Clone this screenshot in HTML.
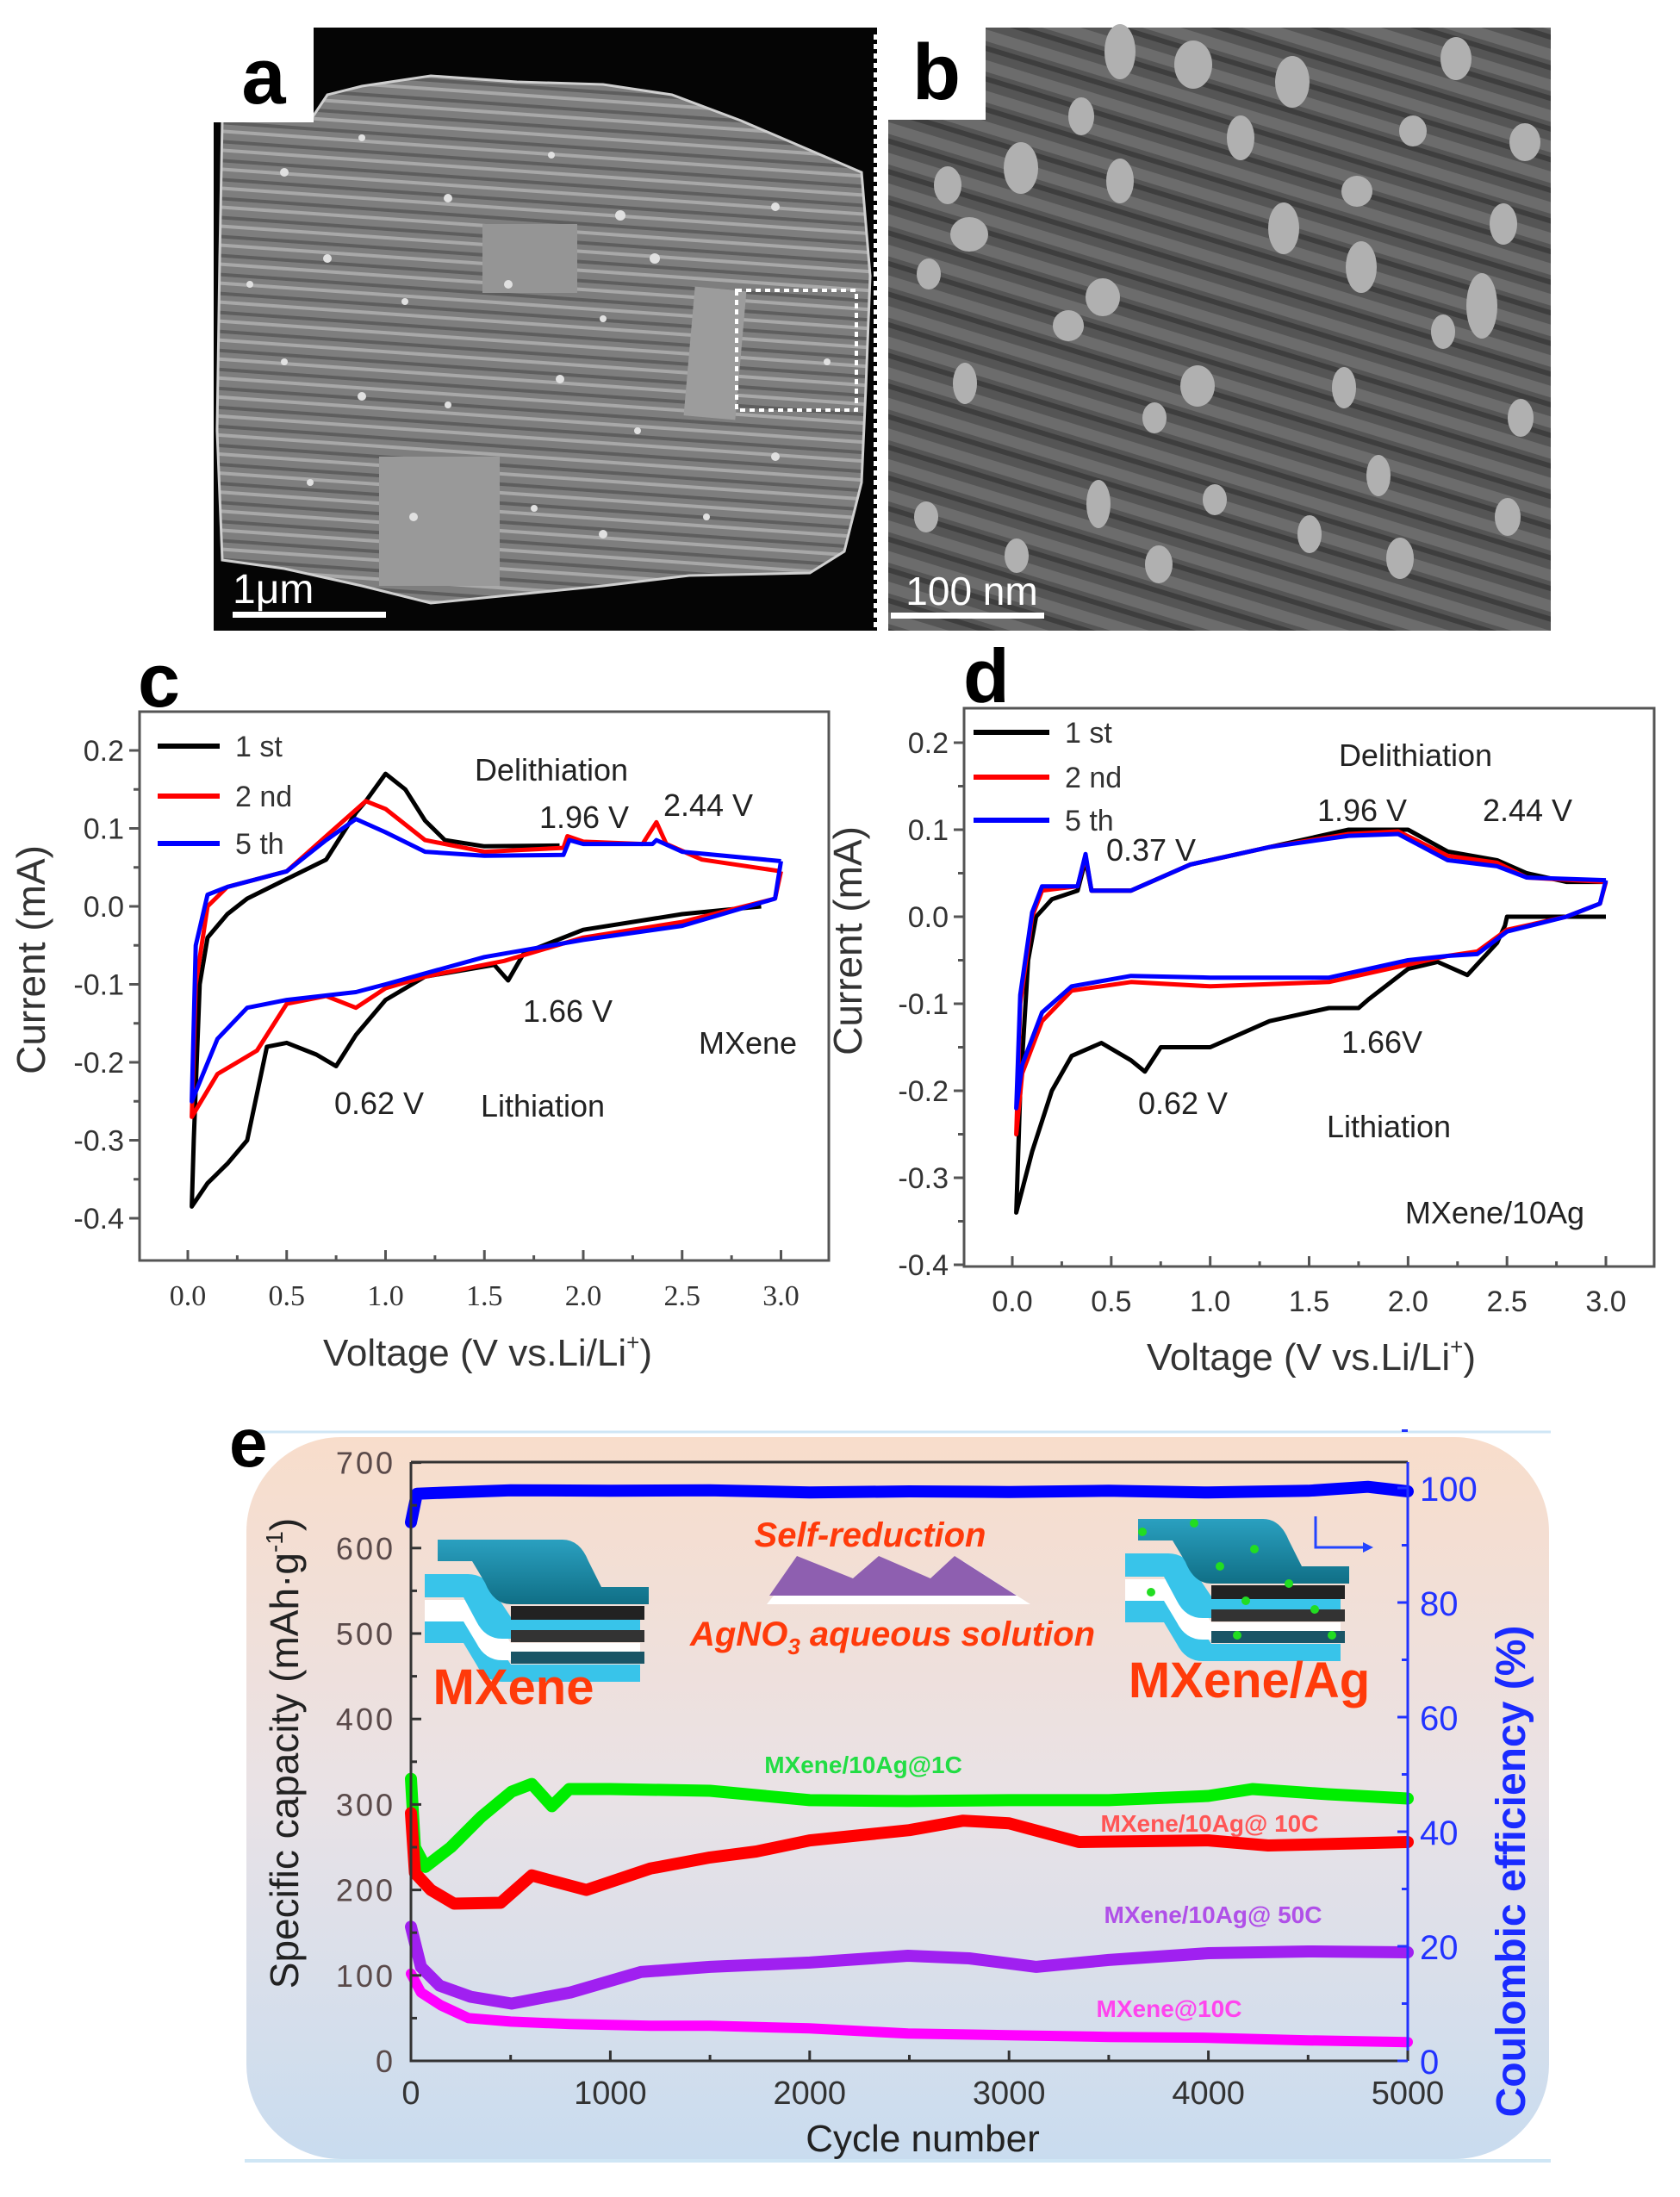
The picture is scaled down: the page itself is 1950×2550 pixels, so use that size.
<!DOCTYPE html>
<html><head><meta charset="utf-8"><style>
html,body{margin:0;padding:0;background:#fff;}
svg{display:block;font-family:"Liberation Sans",Arial,sans-serif;}
</style></head><body>
<svg id="fig" width="1950" height="2550" viewBox="0 0 1950 2550" xmlns="http://www.w3.org/2000/svg">
<defs>
 <pattern id="layersA" width="60" height="22" patternUnits="userSpaceOnUse" patternTransform="rotate(4)">
  <rect width="60" height="22" fill="#7e7e7e"/>
  <rect y="0" width="60" height="4" fill="#a8a8a8"/>
  <rect y="12" width="60" height="4" fill="#5e5e5e"/>
 </pattern>
 <pattern id="fibersB" width="80" height="34" patternUnits="userSpaceOnUse" patternTransform="rotate(17)">
  <rect width="80" height="34" fill="#555"/>
  <rect y="4" width="80" height="13" fill="#6c6c6c"/>
  <rect y="22" width="80" height="6" fill="#3e3e3e"/>
 </pattern>
 <linearGradient id="bgE" x1="0" y1="0" x2="0" y2="1">
  <stop offset="0" stop-color="#f8ddcb"/>
  <stop offset="0.5" stop-color="#e9e2e6"/>
  <stop offset="1" stop-color="#c9dcef"/>
 </linearGradient>
 <linearGradient id="tealTop" x1="0" y1="0" x2="0" y2="1">
  <stop offset="0" stop-color="#2aa0c0"/><stop offset="1" stop-color="#106f86"/>
 </linearGradient>
</defs>

<!-- Panel a -->
<g>
 <rect x="248" y="32" width="770" height="700" fill="#050505"/>
 <path d="M258,140 L360,140 L380,110 L420,100 L500,88 L600,95 L700,98 L780,110 L860,140 L930,170 L1000,200 L1010,320 L1005,450 L1000,560 L980,640 L940,665 L800,668 L700,680 L600,690 L500,700 L420,680 L330,660 L258,650 L252,500 L255,300 Z" fill="url(#layersA)"/>
 <path d="M258,140 L360,140 L380,110 L420,100 L500,88 L600,95 L700,98 L780,110 L860,140 L930,170 L1000,200 L1010,320 L1005,450 L1000,560 L980,640 L940,665 L800,668 L700,680 L600,690 L500,700 L420,680 L330,660 L258,650 L252,500 L255,300 Z" fill="none" stroke="#cfcfcf" stroke-width="3"/>
 <rect x="560" y="260" width="110" height="80" fill="#959595"/>
 <rect x="800" y="335" width="60" height="150" fill="#9c9c9c" transform="rotate(5 830 410)"/>
 <rect x="440" y="530" width="140" height="150" fill="#999"/>
 <g fill="#e0e0e0">
  <circle cx="330" cy="200" r="5"/><circle cx="420" cy="160" r="4"/><circle cx="520" cy="230" r="5"/><circle cx="640" cy="180" r="4"/><circle cx="720" cy="250" r="6"/><circle cx="380" cy="300" r="5"/><circle cx="470" cy="350" r="4"/><circle cx="590" cy="330" r="5"/><circle cx="700" cy="370" r="4"/><circle cx="760" cy="300" r="6"/><circle cx="900" cy="240" r="5"/><circle cx="330" cy="420" r="4"/><circle cx="420" cy="460" r="5"/><circle cx="520" cy="470" r="4"/><circle cx="650" cy="440" r="5"/><circle cx="740" cy="500" r="4"/><circle cx="900" cy="530" r="5"/><circle cx="360" cy="560" r="4"/><circle cx="480" cy="600" r="5"/><circle cx="620" cy="590" r="4"/><circle cx="700" cy="620" r="5"/><circle cx="820" cy="600" r="4"/><circle cx="290" cy="330" r="4"/><circle cx="960" cy="420" r="4"/>
 </g>
 <rect x="855" y="337" width="139" height="139" fill="none" stroke="#fff" stroke-width="4" stroke-dasharray="6 5"/>
 <line x1="1016" y1="40" x2="1016" y2="732" stroke="#fff" stroke-width="4" stroke-dasharray="6 5"/>
 <rect x="248" y="32" width="116" height="110" fill="#fff"/>
 <text x="306" y="120" font-size="92" font-weight="bold" text-anchor="middle" fill="#000">a</text>
 <text x="270" y="700" font-size="48" fill="#fff">1μm</text>
 <rect x="270" y="710" width="178" height="7" fill="#fff"/>
</g>

<!-- Panel b -->
<g>
 <rect x="1031" y="32" width="769" height="700" fill="url(#fibersB)"/>
 <g fill="#b0b0b0">
  <ellipse cx="1300" cy="60" rx="18" ry="32"/><ellipse cx="1385" cy="75" rx="22" ry="28"/><ellipse cx="1500" cy="95" rx="20" ry="30"/><ellipse cx="1690" cy="68" rx="18" ry="25"/><ellipse cx="1255" cy="135" rx="15" ry="22"/><ellipse cx="1440" cy="160" rx="16" ry="26"/><ellipse cx="1640" cy="152" rx="16" ry="18"/><ellipse cx="1770" cy="165" rx="18" ry="22"/><ellipse cx="1185" cy="195" rx="20" ry="30"/><ellipse cx="1300" cy="210" rx="16" ry="26"/><ellipse cx="1575" cy="222" rx="18" ry="18"/><ellipse cx="1100" cy="215" rx="16" ry="22"/><ellipse cx="1125" cy="272" rx="22" ry="20"/><ellipse cx="1490" cy="265" rx="18" ry="30"/><ellipse cx="1745" cy="260" rx="16" ry="24"/><ellipse cx="1580" cy="310" rx="18" ry="30"/><ellipse cx="1078" cy="318" rx="14" ry="18"/><ellipse cx="1280" cy="345" rx="20" ry="22"/><ellipse cx="1240" cy="378" rx="18" ry="18"/><ellipse cx="1720" cy="355" rx="18" ry="38"/><ellipse cx="1675" cy="385" rx="14" ry="20"/><ellipse cx="1120" cy="445" rx="14" ry="24"/><ellipse cx="1390" cy="448" rx="20" ry="24"/><ellipse cx="1560" cy="450" rx="14" ry="24"/><ellipse cx="1340" cy="485" rx="14" ry="18"/><ellipse cx="1765" cy="485" rx="15" ry="22"/><ellipse cx="1600" cy="552" rx="14" ry="24"/><ellipse cx="1075" cy="600" rx="14" ry="18"/><ellipse cx="1275" cy="585" rx="14" ry="28"/><ellipse cx="1410" cy="580" rx="14" ry="18"/><ellipse cx="1750" cy="600" rx="15" ry="22"/><ellipse cx="1520" cy="620" rx="14" ry="22"/><ellipse cx="1345" cy="655" rx="16" ry="22"/><ellipse cx="1625" cy="648" rx="16" ry="24"/><ellipse cx="1180" cy="645" rx="14" ry="20"/>
 </g>
 <rect x="1031" y="32" width="113" height="107" fill="#fff"/>
 <text x="1087" y="115" font-size="92" font-weight="bold" text-anchor="middle" fill="#000">b</text>
 <text x="1128" y="702" font-size="46" fill="#fff" text-anchor="middle">100 nm</text>
 <rect x="1034" y="711" width="178" height="7" fill="#fff"/>
</g>

<g id="panelC"></g>
<g id="panelD"></g>
<g id="panelE"></g>
</svg>

<script>
// ---------- Panel c data (V, mA) ----------
const cFirstV = [2.9,2.5,2.0,1.7,1.62,1.55,1.2,1.0,0.85,0.75,0.65,0.5,0.4,0.3,0.2,0.1,0.02,0.03,0.06,0.1,0.2,0.3,0.5,0.7,0.85,0.9,1.0,1.1,1.2,1.3,1.5,1.88];
const cFirstI = [0.0,-0.01,-0.03,-0.06,-0.095,-0.075,-0.09,-0.12,-0.165,-0.205,-0.19,-0.175,-0.18,-0.3,-0.33,-0.355,-0.385,-0.3,-0.1,-0.04,-0.01,0.01,0.035,0.06,0.12,0.135,0.17,0.15,0.11,0.085,0.077,0.078];
const cSecondV = [3.0,2.97,2.5,2.0,1.6,1.2,1.0,0.85,0.7,0.5,0.35,0.25,0.15,0.02,0.04,0.1,0.2,0.5,0.7,0.9,1.0,1.2,1.5,1.9,1.92,2.0,2.3,2.37,2.42,2.6,3.0];
const cSecondI = [0.045,0.01,-0.02,-0.04,-0.07,-0.09,-0.105,-0.13,-0.115,-0.125,-0.185,-0.2,-0.215,-0.27,-0.1,0.0,0.025,0.045,0.09,0.135,0.125,0.085,0.07,0.075,0.09,0.083,0.08,0.108,0.08,0.06,0.045];
const cFifthV = [3.0,2.97,2.5,2.0,1.5,1.0,0.85,0.5,0.3,0.15,0.02,0.04,0.1,0.2,0.5,0.7,0.85,1.0,1.2,1.5,1.9,1.93,2.0,2.35,2.37,2.5,3.0];
const cFifthI = [0.058,0.01,-0.025,-0.043,-0.065,-0.1,-0.11,-0.12,-0.13,-0.17,-0.25,-0.05,0.015,0.025,0.045,0.085,0.112,0.095,0.07,0.065,0.066,0.085,0.08,0.08,0.085,0.07,0.058];
// ---------- Panel d data ----------
const dFirstV = [3.0,2.5,2.49,2.45,2.3,2.15,2.0,1.8,1.75,1.6,1.3,1.0,0.75,0.67,0.6,0.45,0.3,0.2,0.1,0.02,0.04,0.08,0.12,0.2,0.33,0.37,0.4,0.6,0.9,1.3,1.7,2.0,2.2,2.45,2.6,2.8,3.0];
const dFirstI = [0.0,0.0,-0.01,-0.03,-0.067,-0.052,-0.06,-0.095,-0.105,-0.105,-0.12,-0.15,-0.15,-0.178,-0.165,-0.145,-0.16,-0.2,-0.27,-0.34,-0.2,-0.05,0.0,0.02,0.03,0.065,0.03,0.03,0.06,0.08,0.1,0.1,0.075,0.065,0.05,0.04,0.04];
const dSecondV = [3.0,2.97,2.8,2.5,2.35,2.2,2.0,1.6,1.0,0.6,0.3,0.15,0.05,0.02,0.04,0.1,0.15,0.33,0.37,0.4,0.6,0.9,1.3,1.7,1.95,2.2,2.45,2.6,3.0];
const dSecondI = [0.04,0.015,0.0,-0.015,-0.04,-0.045,-0.055,-0.075,-0.08,-0.075,-0.085,-0.12,-0.18,-0.25,-0.1,0.0,0.03,0.035,0.07,0.03,0.03,0.06,0.08,0.095,0.098,0.07,0.062,0.045,0.04];
const dFifthV = [3.0,2.97,2.8,2.5,2.35,2.2,2.0,1.6,1.0,0.6,0.3,0.15,0.05,0.02,0.04,0.1,0.15,0.33,0.37,0.4,0.6,0.9,1.3,1.7,1.95,2.2,2.45,2.6,3.0];
const dFifthI = [0.042,0.015,0.0,-0.017,-0.043,-0.045,-0.05,-0.07,-0.07,-0.068,-0.08,-0.11,-0.17,-0.22,-0.09,0.005,0.035,0.035,0.072,0.03,0.03,0.06,0.08,0.093,0.095,0.065,0.058,0.045,0.042];
const cvTicksX = [0.0,0.5,1.0,1.5,2.0,2.5,3.0];
const cvTickLabelsX = ["0.0","0.5","1.0","1.5","2.0","2.5","3.0"];
const cvTicksY = [-0.4,-0.3,-0.2,-0.1,0.0,0.1,0.2];
const cvTickLabelsY = ["-0.4","-0.3","-0.2","-0.1","0.0","0.1","0.2"];
// ---------- Panel e data ----------
const eCycles1C = [0,20,72,200,350,505,606,707,794,1000,1500,2000,2493,3000,3500,4000,4221,4600,5000];
const eCap1C = [330,250,227,250,285,315,324,298,318,318,316,305,304,305,305,310,318,312,307];
const eCycles10C = [0,20,100,216,450,606,880,1200,1500,1732,2000,2500,2770,3000,3351,4000,4300,5000];
const eCap10C = [290,220,200,184,185,217,200,225,238,245,258,270,281,278,256,258,252,256];
const eCycles50C = [0,50,144,300,505,800,1154,1500,2000,2493,2800,3137,3500,4000,4500,5000];
const eCap50C = [157,110,88,75,67,80,104,110,115,123,120,110,118,126,128,127];
const eCyclesMX = [0,50,150,289,500,800,1200,1500,2000,2493,3000,3500,4000,4500,5000];
const eCapMX = [102,80,65,50,46,43,41,41,38,32,30,28,27,24,22];
const eCyclesCE = [0,30,500,1000,1500,2000,2500,3000,3500,4000,4500,4800,5000];
const eCE = [94,99,99.6,99.5,99.6,99.2,99.4,99.3,99.5,99.2,99.5,100.2,99.4];
const eTicksX = [0,1000,2000,3000,4000,5000];
const eTicksYL = [0,100,200,300,400,500,600,700];
const eTicksYR = [0,20,40,60,80,100];

const NS = "http://www.w3.org/2000/svg";
function mk(tag, attrs, parent, txt){
  const el = document.createElementNS(NS, tag);
  for (const k in attrs) el.setAttribute(k, attrs[k]);
  if (txt !== undefined) el.textContent = txt;
  parent.appendChild(el);
  return el;
}
function pathFrom(xs, ys, fx, fy){
  let d = "";
  for (let i=0;i<xs.length;i++) d += (i?"L":"M") + fx(xs[i]).toFixed(1) + "," + fy(ys[i]).toFixed(1);
  return d;
}

function cvPanel(g, o){
  const fx = v => o.x0 + o.sx*v;
  const fy = i => o.y0 - o.sy*i;
  const fr = mk("rect",{x:o.L,y:o.T,width:o.R-o.L,height:o.B-o.T,fill:"none",stroke:"#555","stroke-width":3},g);
  
  
  cvTicksY.forEach((t,k)=>{
    const y = fy(t);
    const tk = mk("line",{x1:o.L-12,x2:o.L,y1:y,y2:y,stroke:"#555","stroke-width":3},g);
    
    
    const y2 = fy(t+0.05);
    if (t<0.2) mk("line",{x1:o.L-7,x2:o.L,y1:y2,y2:y2,stroke:"#555","stroke-width":3},g);
    const lb = mk("text",{x:o.L-18,y:y+12,"font-size":34,"text-anchor":"end",fill:"#333"},g,cvTickLabelsY[k]);
    
    
  });
  cvTicksX.forEach((t,k)=>{
    const x = fx(t);
    const tk = mk("line",{x1:x,x2:x,y1:o.B,y2:o.B-12,stroke:"#555","stroke-width":3},g);
    
    
    if (t<3) { const xm = fx(t+0.25); mk("line",{x1:xm,x2:xm,y1:o.B,y2:o.B-6,stroke:"#555","stroke-width":3},g); }
    const lb = mk("text",{x:x,y:o.B+52,"font-size":34,"text-anchor":"middle",fill:"#333","font-family":o.serifX?"Liberation Serif, serif":"Liberation Sans, sans-serif"},g,cvTickLabelsX[k]);
    
    
  });
  const series = [[o.s1v,o.s1i,"#000","first-cycle-line"],[o.s2v,o.s2i,"#ff0000","second-cycle-line"],[o.s5v,o.s5i,"#0000ff","fifth-cycle-line"]];
  series.forEach(s=>{
    const p = mk("path",{d:pathFrom(s[0],s[1],fx,fy),fill:"none",stroke:s[2],"stroke-width":5,"stroke-linejoin":"round"},g);
    
    
  });
  const names = ["1 st","2 nd","5 th"], cols = ["#000","#ff0000","#0000ff"];
  names.forEach((n,k)=>{
    const y = o.legY[k];
    const ln = mk("line",{x1:o.legX1,x2:o.legX2,y1:y,y2:y,stroke:cols[k],"stroke-width":6},g);
    
    
    const tx = mk("text",{x:o.legX2+18,y:y+12,"font-size":34,fill:"#333"},g,n);
    
    
  });
  const yt = mk("text",{x:0,y:0,"font-size":46,"text-anchor":"middle",fill:"#333",transform:`translate(${o.ytx},${o.yty}) rotate(-90)`},g,"Current (mA)");
  
  
  const xt = mk("text",{x:o.xtx,y:o.xty,"font-size":44,"text-anchor":"middle",fill:"#333"},g);
  
  
  xt.appendChild(document.createTextNode("Voltage (V vs.Li/Li"));
  mk("tspan",{"font-size":26,dy:-18},xt,"+");
  mk("tspan",{dy:18},xt,")");
  o.notes.forEach(a=>{
    const t = mk("text",{x:a[0],y:a[1],"font-size":a[3]||36,"text-anchor":"middle",fill:"#222"},g,a[2]);
    
    
  });
  const pl = mk("text",{x:o.plx,y:o.ply,"font-size":88,"font-weight":"bold",fill:"#000"},g,o.plabel);
  
  
}

cvPanel(document.getElementById("panelC"), {
  L:162,R:962,T:826,B:1463,x0:218,sx:229.5,y0:1052,sy:905,serifX:true,
  s1v:cFirstV,s1i:cFirstI,s2v:cSecondV,s2i:cSecondI,s5v:cFifthV,s5i:cFifthI,
  legX1:183,legX2:255,legY:[866,924,979],ytx:52,yty:1114,xtx:566,xty:1585,
  notes:[[640,906,"Delithiation"],[678,961,"1.96 V"],[822,947,"2.44 V"],[659,1186,"1.66 V"],[868,1223,"MXene"],[440,1293,"0.62 V"],[630,1296,"Lithiation"]],
  plx:160,ply:820,plabel:"c"
});
cvPanel(document.getElementById("panelD"), {
  L:1119,R:1920,T:822,B:1470,x0:1175,sx:229.67,y0:1064,sy:1010,serifX:false,
  s1v:dFirstV,s1i:dFirstI,s2v:dSecondV,s2i:dSecondI,s5v:dFifthV,s5i:dFifthI,
  legX1:1130,legX2:1218,legY:[850,902,952],ytx:1000,yty:1092,xtx:1522,xty:1590,
  notes:[[1643,889,"Delithiation"],[1581,953,"1.96 V"],[1773,953,"2.44 V"],[1336,999,"0.37 V"],[1604,1222,"1.66V"],[1373,1293,"0.62 V"],[1612,1320,"Lithiation"],[1735,1420,"MXene/10Ag"]],
  plx:1118,ply:815,plabel:"d"
});

// ---------- Panel e ----------
(function(){
  const g = document.getElementById("panelE");
  const L=477,R=1634,T=1697,B=2392;
  const fx = n => L + n*(R-L)/5000;
  const fy = c => B - c*0.992;
  const fyR = p => B - p*6.65;
  mk("line",{x1:284,x2:1800,y1:1662,y2:1662,stroke:"#cfe6f5","stroke-width":3},g);
  mk("line",{x1:284,x2:1800,y1:2508,y2:2508,stroke:"#cfe6f5","stroke-width":4},g);
  const bg = mk("rect",{x:286,y:1668,width:1512,height:838,rx:110,fill:"url(#bgE)"},g);
  
  
  const pl = mk("text",{x:266,y:1702,"font-size":80,"font-weight":"bold",fill:"#000"},g,"e");
  
  
  const ins = mk("g",{},g);
  
  
  function block(x,y,s,dots){
    const b = mk("g",{transform:`translate(${x},${y}) scale(${s})`},ins);
    mk("path",{d:"M10,100 L60,100 Q80,100 90,120 L110,150 L260,150 L260,170 L100,170 Q80,170 70,150 L55,125 L10,125 Z",fill:"#38c4ea"},b);
    mk("path",{d:"M10,75 L60,75 Q80,75 90,95 L110,125 L260,125 L260,145 L100,145 Q80,145 70,125 L55,100 L10,100 Z",fill:"#fff"},b);
    mk("path",{d:"M10,45 L60,45 Q80,45 90,65 L110,95 L260,95 L260,120 L100,120 Q80,120 70,100 L55,72 L10,72 Z",fill:"#38c4ea"},b);
    mk("path",{d:"M25,5 L170,5 Q190,5 200,30 L215,60 L270,60 L270,80 L110,80 Q90,80 80,55 L65,30 L25,30 Z",fill:"url(#tealTop)"},b);
    mk("rect",{x:110,y:82,width:155,height:16,fill:"#222"},b);
    mk("rect",{x:110,y:110,width:155,height:14,fill:"#333"},b);
    mk("rect",{x:110,y:135,width:155,height:14,fill:"#1a5566"},b);
    if(dots){ [[30,20],[90,10],[120,60],[160,40],[200,80],[150,100],[230,110],[140,140],[40,90],[250,140]].forEach(p=>mk("circle",{cx:p[0],cy:p[1],r:5,fill:"#22dd22"},b)); }
  }
  block(483,1782,1.0,false);
  block(1296,1758,1.0,true);
  mk("path",{d:"M890,1862 L930,1812 L1000,1840 L1030,1812 L1090,1840 L1118,1812 L1196,1862 Z",fill:"#fff"},ins);
  mk("path",{d:"M893,1852 L925,1806 L990,1832 L1020,1806 L1080,1832 L1108,1806 L1180,1852 Z",fill:"#8e5fb0"},ins);
  mk("path",{d:"M1527,1760 L1527,1796 L1588,1796",fill:"none",stroke:"#2244ff","stroke-width":3},ins);
  mk("path",{d:"M1582,1790 L1594,1796 L1582,1802 Z",fill:"#2244ff"},ins);
  const t1 = mk("text",{x:596,y:1978,"font-size":58,"font-weight":"bold","text-anchor":"middle",fill:"#ff3a0a"},ins,"MXene");
  
  
  const t2 = mk("text",{x:1010,y:1795,"font-size":40,"font-weight":"bold","font-style":"italic","text-anchor":"middle",fill:"#ff3a0a"},ins,"Self-reduction");
  
  
  const t3 = mk("text",{x:1036,y:1910,"font-size":40,"font-weight":"bold","font-style":"italic","text-anchor":"middle",fill:"#ff3a0a"},ins);
  
  
  t3.appendChild(document.createTextNode("AgNO"));
  mk("tspan",{"font-size":26,dy:10},t3,"3");
  mk("tspan",{dy:-10},t3," aqueous solution");
  const t4 = mk("text",{x:1450,y:1970,"font-size":58,"font-weight":"bold","text-anchor":"middle",fill:"#ff3a0a"},ins,"MXene/Ag");
  
  
  const ser = [[eCyclesCE,eCE,"#0000ff","coulombic-efficiency-line",true,14],
               [eCycles1C,eCap1C,"#00ee00","mxene-10ag-1c-line",false,14],
               [eCycles10C,eCap10C,"#ff0000","mxene-10ag-10c-line",false,14],
               [eCycles50C,eCap50C,"#a020f0","mxene-10ag-50c-line",false,14],
               [eCyclesMX,eCapMX,"#ff00ff","mxene-10c-line",false,12]];
  ser.forEach(s=>{
    const p = mk("path",{d:pathFrom(s[0],s[1],fx,s[4]?fyR:fy),fill:"none",stroke:s[2],"stroke-width":s[5],"stroke-linejoin":"round","stroke-linecap":"round"},g);
    
    
  });
  mk("path",{d:`M${L},${T} L${L},${B} L${R},${B}`,fill:"none",stroke:"#333","stroke-width":3},g);
  mk("line",{x1:L,x2:R,y1:T,y2:T,stroke:"#333","stroke-width":3},g);
  const ra = mk("line",{x1:R,x2:R,y1:T,y2:B,stroke:"#2233ff","stroke-width":3},g);
  
  
  eTicksX.forEach(t=>{
    const x = fx(t);
    mk("line",{x1:x,x2:x,y1:B,y2:B-12,stroke:"#333","stroke-width":3},g);
    if (t<5000){ const xm=fx(t+500); mk("line",{x1:xm,x2:xm,y1:B,y2:B-7,stroke:"#333","stroke-width":3},g); }
    const lb = mk("text",{x:x,y:B+50,"font-size":38,"text-anchor":"middle",fill:"#333"},g,String(t));
    
    
  });
  eTicksYL.forEach(t=>{
    const y = fy(t);
    mk("line",{x1:L,x2:L+12,y1:y,y2:y,stroke:"#333","stroke-width":3},g);
    if (t<700){ const ym=fy(t+50); mk("line",{x1:L,x2:L+7,y1:ym,y2:ym,stroke:"#333","stroke-width":3},g); }
    const lb = mk("text",{x:459,y:y+13,"font-size":36,"text-anchor":"end",fill:"#5a4a4a","letter-spacing":3},g,String(t));
    
    
  });
  eTicksYR.forEach(t=>{
    const y = fyR(t);
    mk("line",{x1:R,x2:R-12,y1:y,y2:y,stroke:"#2233ff","stroke-width":3},g);
    const ym = fyR(t+10); mk("line",{x1:R,x2:R-7,y1:ym,y2:ym,stroke:"#2233ff","stroke-width":3},g);
    const lb = mk("text",{x:1648,y:y+15,"font-size":40,fill:"#2233ff"},g,String(t));
    
    
  });
  const yl = mk("text",{x:0,y:0,"font-size":46,"text-anchor":"middle",fill:"#222",transform:"translate(346,2035) rotate(-90)"},g);
  
  
  yl.appendChild(document.createTextNode("Specific capacity (mAh·g"));
  mk("tspan",{"font-size":28,dy:-18},yl,"-1");
  mk("tspan",{dy:18},yl,")");
  const yr = mk("text",{x:0,y:0,"font-size":48,"font-weight":"bold","text-anchor":"middle",fill:"#1a2bff",transform:"translate(1770,2172) rotate(-90)"},g,"Coulombic efficiency (%)");
  
  
  const xl = mk("text",{x:1071,y:2497,"font-size":44,"text-anchor":"middle",fill:"#222"},g,"Cycle number");
  
  
  const labs = [[1002,2058,"MXene/10Ag@1C","#22dd44"],[1404,2126,"MXene/10Ag@ 10C","#ff5555"],[1408,2232,"MXene/10Ag@ 50C","#b050e8"],[1357,2341,"MXene@10C","#ff44ee"]];
  labs.forEach(a=>{
    const t = mk("text",{x:a[0],y:a[1],"font-size":28,"font-weight":"bold","text-anchor":"middle",fill:a[3]},g,a[2]);
    
    
  });
})();
</script>
</body></html>
